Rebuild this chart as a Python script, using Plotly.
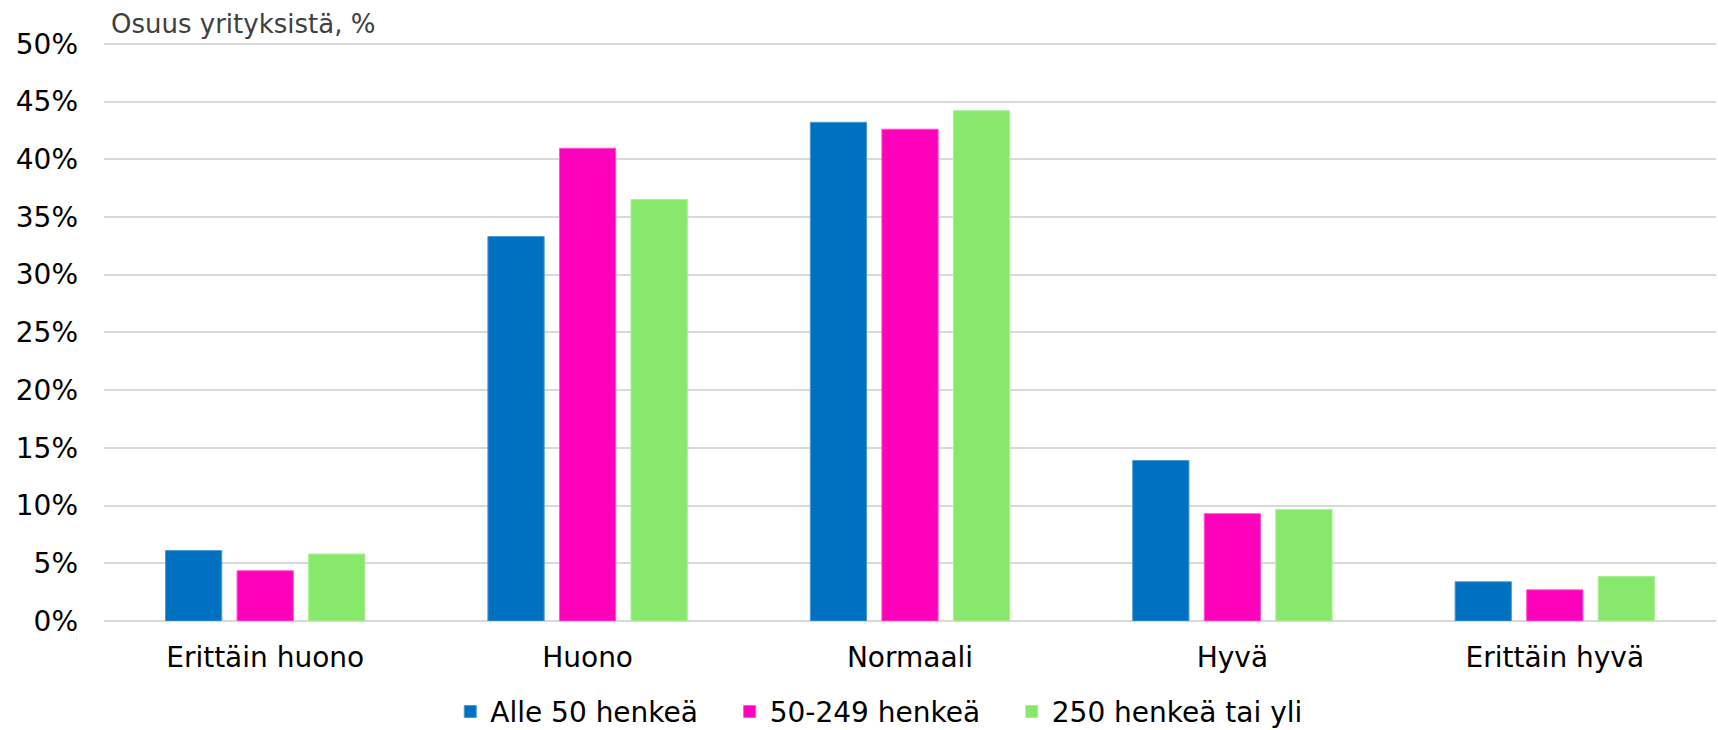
import plotly.graph_objects as go

categories = ["Erittäin huono", "Huono", "Normaali", "Hyvä", "Erittäin hyvä"]
series_names = ["Alle 50 henkeä", "50-249 henkeä", "250 henkeä tai yli"]
alle50 = [6.1, 33.3, 43.2, 13.9, 3.4]
mid50_249 = [4.35, 40.95, 42.6, 9.3, 2.7]
over250 = [5.8, 36.5, 44.2, 9.65, 3.85]
colors = ["#0070C0", "#FF00BB", "#88E86B"]
edge_colors = ["#4A9AD6", "#FF55D0", "#A8F090"]
# trailing non-breaking spaces only widen the legend entries to the reference spacing
legend_pad = ["\u00a0\u00a0\u00a0", "\u00a0\u00a0\u00a0", ""]
y_ticks = [0, 5, 10, 15, 20, 25, 30, 35, 40, 45, 50]
y_tick_labels = [f"{v}%" for v in y_ticks]

FONT = "DejaVu Sans, Verdana, sans-serif"

fig = go.Figure()
for name, pad, vals, col, ecol in zip(series_names, legend_pad, [alle50, mid50_249, over250], colors, edge_colors):
    fig.add_trace(go.Bar(
        x=categories, y=vals, name=name + pad,
        marker=dict(color=col, line=dict(color=ecol, width=1)),
    ))

fig.update_layout(
    width=1718, height=730,
    paper_bgcolor="white", plot_bgcolor="white",
    barmode="group", bargap=0.334, bargroupgap=0.214,
    margin=dict(l=104, r=2, t=37.5, b=108.7, autoexpand=False),
    font=dict(family=FONT, size=28, color="black"),
    legend=dict(
        orientation="h", x=0.2148, xanchor="left",
        yref="container", y=0.025, yanchor="middle",
        font=dict(family=FONT, size=28, color="black"),
        itemwidth=30, tracegroupgap=0,
    ),
    annotations=[dict(
        text="Osuus yrityksistä, %", xref="paper", yref="paper",
        x=0.003, y=0.994, xanchor="left", yanchor="bottom",
        showarrow=False, font=dict(family=FONT, size=26, color="#404040"),
    )],
)
fig.update_yaxes(
    range=[0, 50.5], tickvals=y_ticks, ticktext=y_tick_labels,
    showgrid=True, gridcolor="#D9D9D9", gridwidth=2,
    zeroline=True, zerolinecolor="#D9D9D9", zerolinewidth=2,
    showline=False, ticks="", ticklabelstandoff=25,
    tickfont=dict(family=FONT, size=28, color="black"),
)
fig.update_xaxes(
    showgrid=False, showline=False, ticks="", ticklabelstandoff=17,
    tickfont=dict(family=FONT, size=28, color="black"),
)

fig.write_html(
    "out.html",
    config={"displayModeBar": False},
    post_script="document.body.style.margin='0';document.body.style.overflow='hidden';",
)
